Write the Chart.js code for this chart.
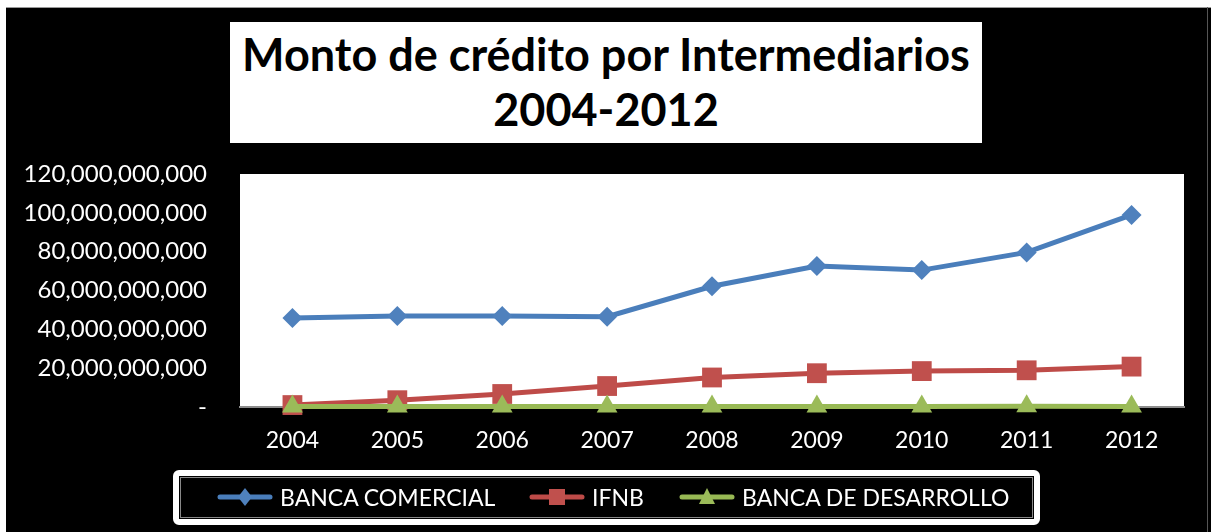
<!DOCTYPE html>
<html>
<head>
<meta charset="utf-8">
<script src="https://cdn.jsdelivr.net/npm/chart.js@4/dist/chart.umd.min.js"></script>
<style>
  body { margin: 0; background: #fff; width: 1211px; height: 532px; overflow: hidden; position: relative; font-family: Lato, "Open Sans", sans-serif; }
  #frame { position: absolute; left: 6px; top: 7px; width: 1205px; height: 525px; background: #000; border-top: 1px solid #999; box-sizing: border-box; }
  #edge { position: absolute; left: 1207px; top: 7px; width: 1px; height: 525px; background: #555; }
  #chart { position: absolute; left: 0; top: 0; }
  #title { position: absolute; left: 230px; top: 22px; width: 752px; height: 121px; background: #fff; color: #000;
    font-weight: bold; font-size: 45px; line-height: 55px; text-align: center; padding-top: 5px; box-sizing: border-box; }
  #legend { position: absolute; left: 173px; top: 470px; width: 867px; height: 55px; border: 6px solid #fff; border-radius: 6px; box-sizing: border-box; }
  #legend .inner { position: absolute; left: 1px; top: 1px; right: 1px; bottom: 1px; border: 1px solid #888; }
  .item { position: absolute; top: 0; height: 41px; display: flex; align-items: center; color: #fff; font-size: 23px; }
  .item canvas { margin-right: 7px; }
</style>
</head>
<body>
<div id="frame"></div>
<div id="edge"></div>
<canvas id="chart" width="1211" height="532"></canvas>
<div id="title">Monto de crédito por Intermediarios<br>2004-2012</div>
<div id="legend"><div class="inner"></div></div>
<script>
const years = ['2004', '2005', '2006', '2007', '2008', '2009', '2010', '2011', '2012'];
const bancaComercial = [45.8e9, 46.9e9, 46.9e9, 46.5e9, 62.2e9, 72.6e9, 70.5e9, 79.6e9, 98.9e9];
const ifnb = [1.0e9, 3.5e9, 6.7e9, 10.8e9, 15.2e9, 17.4e9, 18.5e9, 18.9e9, 20.8e9];
const bancaDesarrollo = [0.3e9, 0.3e9, 0.3e9, 0.3e9, 0.3e9, 0.3e9, 0.3e9, 0.4e9, 0.3e9];
const yTicks = [0, 20e9, 40e9, 60e9, 80e9, 100e9, 120e9];

const plotBg = {
  id: 'plotBg',
  beforeDraw(chart) {
    const a = chart.chartArea;
    const ctx = chart.ctx;
    ctx.save();
    ctx.fillStyle = '#fff';
    ctx.fillRect(a.left, a.top, a.right - a.left, a.bottom - a.top);
    ctx.restore();
  }
};

const ctx = document.getElementById('chart').getContext('2d');
const chart = new Chart(ctx, {
  type: 'line',
  data: {
    labels: years,
    datasets: [
      { label: 'BANCA COMERCIAL', data: bancaComercial, borderColor: '#4A7EBB', backgroundColor: '#4F81BD',
        pointStyle: 'rectRot', pointRadius: 10, order: 2 },
      { label: 'IFNB', data: ifnb, borderColor: '#BE4B48', backgroundColor: '#C0504D',
        pointStyle: 'rect', pointRadius: 14, order: 1 },
      { label: 'BANCA DE DESARROLLO', data: bancaDesarrollo, borderColor: '#98B954', backgroundColor: '#9BBB59',
        pointStyle: 'triangle', pointRadius: 12, order: 0 }
    ].map(d => Object.assign(d, { borderWidth: 5, pointBorderWidth: 0, pointBorderColor: d.backgroundColor,
      pointBackgroundColor: d.backgroundColor, tension: 0, fill: false, clip: false }))
  },
  options: {
    responsive: false,
    animation: false,
    layout: { padding: { left: 0, top: 174, right: 27, bottom: 0 } },
    plugins: { legend: { display: false }, title: { display: false }, tooltip: { enabled: false } },
    scales: {
      x: {
        offset: true,
        grid: { display: false, drawTicks: false },
        border: { display: true, color: '#8c8c8c', width: 2 },
        ticks: { color: '#fff', padding: 20, font: { family: 'Lato', size: 23 } },
        afterFit(scale) { scale.height = 125; }
      },
      y: {
        min: 0, max: 120e9,
        grid: { display: false, drawTicks: false },
        border: { display: false },
        afterBuildTicks(scale) { scale.ticks = yTicks.map(v => ({ value: v })); },
        ticks: {
          color: '#fff', padding: 33, font: { family: 'Lato', size: 24 },
          callback: v => v === 0 ? '-' : v.toLocaleString('en-US')
        },
        afterFit(scale) { scale.width = 240; }
      }
    }
  },
  plugins: [plotBg]
});

// legend built from the datasets
const legendPos = [38, 350, 500];
const legendEl = document.getElementById('legend');
chart.data.datasets.forEach((ds, i) => {
  const item = document.createElement('div');
  item.className = 'item';
  item.style.left = legendPos[i] + 'px';
  const c = document.createElement('canvas');
  c.width = 56; c.height = 24;
  const g = c.getContext('2d');
  g.strokeStyle = ds.borderColor; g.lineWidth = 5; g.lineCap = 'round';
  g.beginPath(); g.moveTo(3, 12); g.lineTo(53, 12); g.stroke();
  g.fillStyle = ds.backgroundColor;
  g.beginPath();
  if (ds.pointStyle === 'rectRot') { g.moveTo(28, 3); g.lineTo(35, 12); g.lineTo(28, 21); g.lineTo(21, 12); }
  else if (ds.pointStyle === 'rect') { g.rect(20, 4, 16, 16); }
  else { g.moveTo(28, 3); g.lineTo(36, 19); g.lineTo(20, 19); }
  g.closePath(); g.fill();
  item.appendChild(c);
  const t = document.createElement('span');
  t.textContent = ds.label;
  item.appendChild(t);
  legendEl.appendChild(item);
});
</script>
</body>
</html>
